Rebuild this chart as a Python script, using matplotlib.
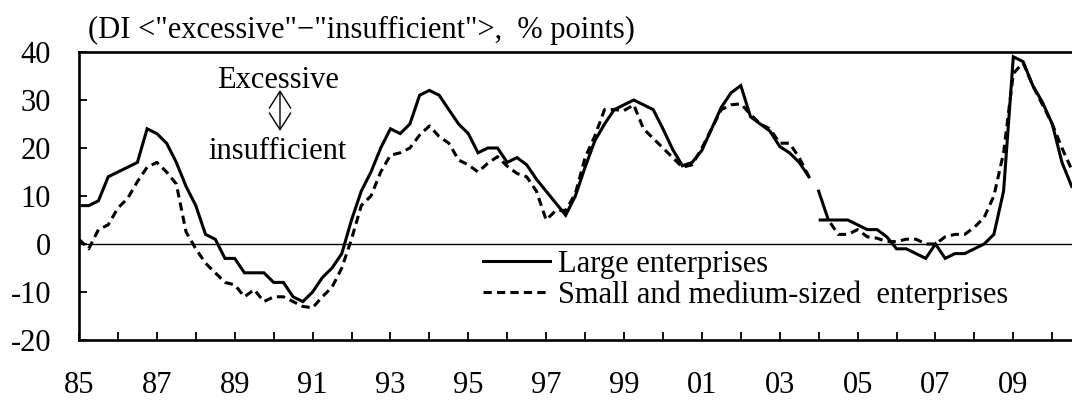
import matplotlib
matplotlib.use("Agg")
import matplotlib.pyplot as plt
import numpy as np
from matplotlib.patches import ArrowStyle

plt.rcParams['font.family'] = ['Liberation Serif', 'DejaVu Serif']
plt.rcParams['axes.unicode_minus'] = False

# Quarterly data, 1985Q1 onward
start_year = 1985
large_old = [8, 8, 9, 14, 15, 16, 17, 24, 23, 21, 17, 12, 8, 2, 1, -3, -3, -6, -6, -6,
             -8, -8, -11, -12, -10, -7, -5, -2, 5, 11, 15, 20, 24, 23, 25, 31, 32, 31, 28, 25,
             23, 19, 20, 20, 17, 18, 16.5, 13.5, 11, 8.5, 6, 10, 16, 21.5, 25, 28, 29, 30, 29, 28,
             24, 19.7, 16.3, 17, 19.5, 24, 28.5, 31.5, 33, 26.5, 25, 23.5, 20.3, 19, 17, 14]
sme_old = [1, -1, 3, 4, 7.5, 9.5, 13, 16, 17, 15, 12.5, 2.5, -1, -4, -6, -8, -8.5, -11, -9.5, -12,
           -11, -11, -12, -13, -13.3, -11, -9, -5, 1, 8, 10, 15, 18.5, 19, 20, 22.7, 24.6, 22.4, 21, 17.5,
           16.5, 15, 16.8, 18.2, 16.2, 14.7, 14, 11, 5, 7, 7, 10.5, 18, 22.5, 28, 28, 27.8, 29, 24, 22,
           20, 18, 16, 16.5, 20, 24, 28, 29, 29.2, 27, 25, 24, 21, 21, 18, 14]
large_new = [11, 5, 5, 5, 4, 3, 3, 1.5, -1, -1, -2, -3, 0, -3, -2, -2, -1, 0, 2, 11,
             39, 38, 33, 29.5, 25, 17, 12]
sme_new = [5, 5, 2, 2, 3, 1.5, 1.2, 0.5, 0.5, 1, 1, 0, 0, 1.5, 2, 2, 3.5, 5.5, 10, 19,
           35.5, 37.8, 33, 29, 25, 20, 15.5]

yticks = [-20, -10, 0, 10, 20, 30, 40]
ytick_labels = ['-20', '-10', '0', '10', '20', '30', '40']
label_years = list(range(1985, 2010, 2))

title_text = '(DI <"excessive"\u2212"insufficient">,  % points)'
legend_labels = ['Large enterprises', 'Small and medium-sized  enterprises']

n_old = len(large_old)
x_old = start_year + np.arange(n_old) / 4.0
x_new = start_year + (n_old + np.arange(len(large_new))) / 4.0

W, H = 1072, 401
fig = plt.figure(figsize=(W / 100, H / 100), dpi=100)
ax = fig.add_axes([79 / W, 1 - 340 / H, 1 - 79 / W, 288 / H])

lw = 2.2
dash = (2.7, 1.7)
line_l, = ax.plot(x_old, large_old, color='black', lw=lw, solid_joinstyle='miter')
ax.plot(x_new, large_new, color='black', lw=lw, solid_joinstyle='miter')
line_s, = ax.plot(x_old, sme_old, color='black', lw=lw, dashes=dash)
ax.plot(x_new, sme_new, color='black', lw=lw, dashes=dash)

ax.axhline(0, color='black', lw=1.0, zorder=1)

ax.set_xlim(1985, 1985 + 993 / 38.93)
ax.set_ylim(-20, 40)
ax.set_yticks(yticks)
ax.set_yticklabels(ytick_labels)
years = np.arange(1985, 2011)
ax.set_xticks(years)
ax.set_xticklabels([f"{y % 100:02d}" if y in label_years else '' for y in years])

ax.tick_params(axis='both', direction='in', length=6, width=1.3, labelsize=22, colors='black')
ax.tick_params(axis='y', pad=20)
ax.tick_params(axis='x', pad=22)
for s in ['left', 'bottom', 'top']:
    ax.spines[s].set_linewidth(1.9)
ax.spines['right'].set_visible(False)

ax.legend([line_l, line_s], legend_labels, loc='upper left',
          bbox_to_anchor=((483 - 79) / 993, (340 - 250) / 288),
          borderaxespad=0, borderpad=0, frameon=False, fontsize=22,
          handlelength=2.2, handletextpad=0.26, labelspacing=0.05)

fig.text(88 / W, 1 - 38 / H, title_text, fontsize=22, ha='left', va='baseline')
fig.text(278 / W, 1 - 88 / H, 'Excessive', fontsize=22, ha='center', va='baseline')
fig.text(278 / W, 1 - 159 / H, 'insufficient', fontsize=22, ha='center', va='baseline')
ax.annotate('', xy=(280 / W, 1 - 90 / H), xytext=(280 / W, 1 - 131 / H),
            xycoords='figure fraction', textcoords='figure fraction',
            arrowprops=dict(arrowstyle=ArrowStyle('<->', head_length=0.55, head_width=0.35),
                            mutation_scale=22, lw=1.0, color='black', shrinkA=0, shrinkB=0))

fig.savefig('out.png', dpi=100)
